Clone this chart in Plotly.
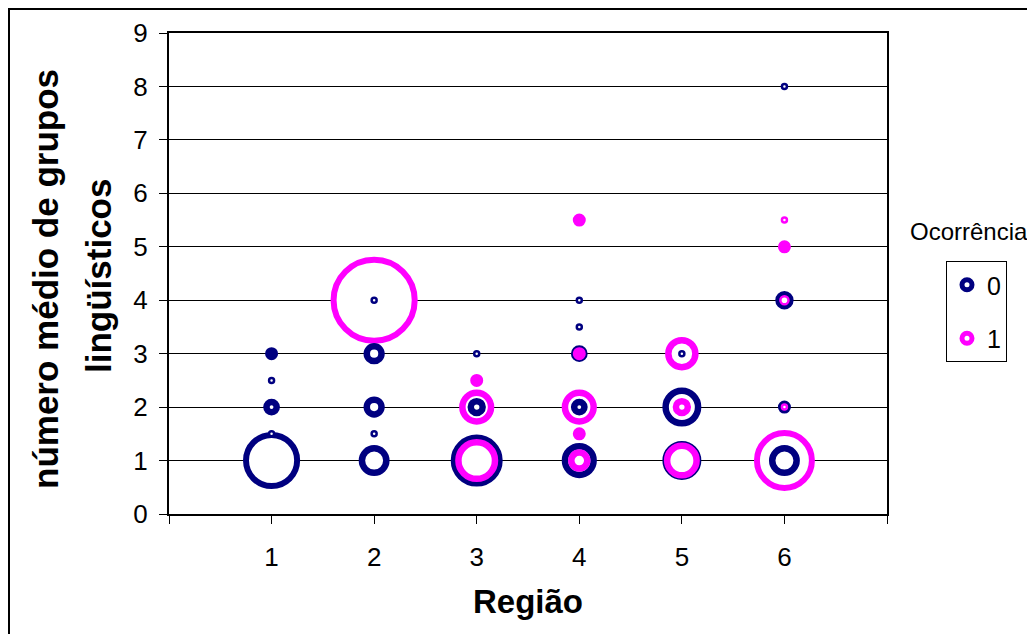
import plotly.graph_objects as go
import numpy as np

# ---- data (Ocorrência 0) ----
regiao_0 = [1, 1, 1, 1, 1, 2, 2, 2, 2, 2, 3, 3, 3, 4, 4, 4, 4, 4, 5, 5, 5, 6, 6, 6, 6]
media_0 = [3, 2.5, 2, 1.5, 1, 4, 3, 2, 1.5, 1, 3, 2, 1, 4, 3.5, 3, 2, 1, 3, 2, 1, 8, 4, 2, 1]
freq_0 = [3, 1, 5, 1, 58, 1, 8, 8, 1, 17, 1, 6, 48, 1, 1, 5, 5, 22, 1, 27, 27, 1, 6, 3, 17]

# ---- data (Ocorrência 1) ----
regiao_1 = [2, 3, 3, 3, 4, 4, 4, 4, 4, 5, 5, 5, 6, 6, 6, 6, 6]
media_1 = [4, 2.5, 2, 1, 5.5, 3, 2, 1.5, 1, 3, 2, 1, 5.5, 5, 4, 2, 1]
freq_1 = [135, 3, 22, 33, 3, 3, 22, 3, 9, 20, 6, 23, 1, 3, 2, 1, 66]

x_ticks = [0, 1, 2, 3, 4, 5, 6, 7]
x_ticktext = ["", "1", "2", "3", "4", "5", "6", ""]
series_names = ["0", "1"]

NAVY = "#000080"
MAGENTA = "#FF00FF"

# combine and sort: larger bubbles drawn first (as Excel does)
xs = np.array(regiao_0 + regiao_1, dtype=float)
ys = np.array(media_0 + media_1, dtype=float)
vs = np.array(freq_0 + freq_1, dtype=float)
cols = np.array([NAVY] * len(regiao_0) + [MAGENTA] * len(regiao_1))
order = np.argsort(-vs, kind="stable")
xs, ys, vs, cols = xs[order], ys[order], vs[order], cols[order]

outer = 7.5 * np.sqrt(vs)
lw = np.where(vs <= 2, 2.5, np.where(vs >= 40, 6.0, 6.5))
size = np.maximum(outer - lw, 1)

fig = go.Figure()
fig.add_trace(go.Scatter(
    x=xs, y=ys, mode="markers", showlegend=False, hoverinfo="skip",
    marker=dict(size=size, color="white", symbol="circle", opacity=1,
                line=dict(color=cols, width=lw)),
))
for name, c in zip(series_names, [NAVY, MAGENTA]):
    fig.add_trace(go.Scatter(
        x=[None], y=[None], mode="markers", name=name, legendgroup=name,
        marker=dict(size=10, color="white", opacity=1,
                    line=dict(color=c, width=5)),
    ))

font_family = "Arial, Liberation Sans, sans-serif"

# plot area (figure pixels): left 161, right 879, top 25, bottom 506
L, R, T, B = 161, 879, 25, 506
PW, PH = R - L, B - T


def px(xf):
    return (xf - L) / PW


def py(yf):
    return (B - yf) / PH


fig.update_layout(
    width=1035, height=634,
    margin=dict(l=L, r=1035 - R, t=T, b=634 - B),
    paper_bgcolor="white", plot_bgcolor="white",
    font=dict(family=font_family, color="black", size=24),
    xaxis=dict(
        range=[0, 7], tickvals=x_ticks, ticktext=x_ticktext,
        showgrid=False, zeroline=False, automargin=False,
        showline=True, linecolor="black", linewidth=2, mirror=True,
        ticks="outside", ticklen=8, tickcolor="black", tickwidth=1,
        tickfont=dict(size=26), ticklabelstandoff=11,
        title=dict(text="<b>Região</b>", font=dict(size=33), standoff=19),
    ),
    yaxis=dict(
        range=[0, 9], dtick=1, tick0=0, automargin=False,
        showgrid=True, gridcolor="black", gridwidth=1, zeroline=False,
        showline=True, linecolor="black", linewidth=2, mirror=True,
        ticks="outside", ticklen=8, tickcolor="black", tickwidth=1,
        tickfont=dict(size=26), ticklabelstandoff=6,
    ),
    legend=dict(
        x=px(938), xanchor="left", y=py(253), yanchor="top",
        bordercolor="black", borderwidth=1, bgcolor="white",
        font=dict(size=25), tracegroupgap=18, itemwidth=30,
    ),
    annotations=[
        dict(text="Ocorrência", xref="paper", yref="paper",
             x=px(961), y=py(224), xanchor="center", yanchor="middle",
             showarrow=False, font=dict(size=24)),
        dict(text="<b>número médio de grupos</b>", xref="paper", yref="paper",
             x=px(37), y=py(271), xanchor="center", yanchor="middle",
             textangle=-90, showarrow=False, font=dict(size=35)),
        dict(text="<b>lingüísticos</b>", xref="paper", yref="paper",
             x=px(90), y=py(268), xanchor="center", yanchor="middle",
             textangle=-90, showarrow=False, font=dict(size=35)),
    ],
    shapes=[dict(
        type="rect", xref="paper", yref="paper",
        x0=px(1), x1=px(1100), y0=py(700), y1=py(1),
        line=dict(color="black", width=2), fillcolor="rgba(0,0,0,0)",
        layer="below",
    )],
)

fig.write_html("out.html")
